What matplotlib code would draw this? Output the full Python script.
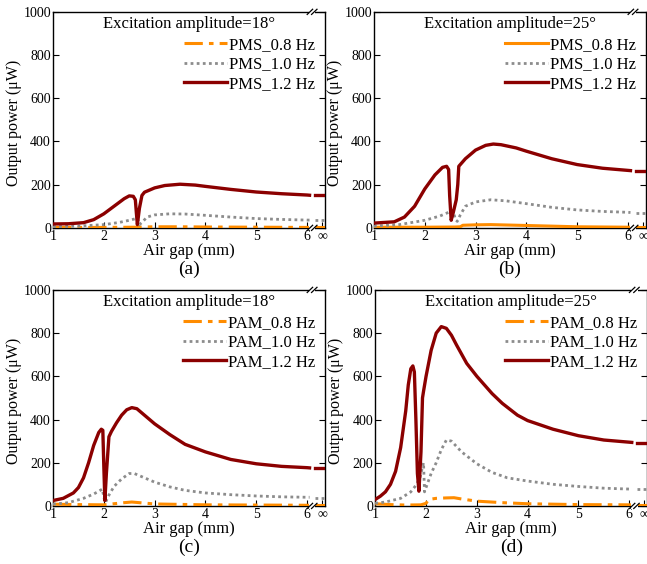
import matplotlib
matplotlib.use("Agg")
import matplotlib.pyplot as plt
from matplotlib.patches import Rectangle

plt.rcParams['font.family'] = ['Liberation Serif', 'DejaVu Serif']
plt.rcParams['mathtext.fontset'] = 'stix'

# ---------------- data ----------------
# Panel (a): PMS, 18 deg
red_a_x = [1.0, 1.3, 1.6, 1.8, 2.0, 2.2, 2.4, 2.5, 2.58, 2.62, 2.64, 2.66, 2.70, 2.75, 2.8, 3.0, 3.2, 3.5, 3.8, 4.0, 4.5, 5.0, 5.5, 6.0, 6.05]
red_a_y = [18, 19, 24, 38, 65, 100, 135, 148, 146, 130, 70, 15, 90, 150, 165, 185, 196, 202, 198, 192, 178, 166, 158, 152, 151]
gray_a_x = [1.0, 1.5, 2.0, 2.3, 2.5, 2.62, 2.66, 2.7, 2.75, 2.85, 3.0, 3.3, 3.6, 4.0, 4.5, 5.0, 5.5, 6.0, 6.05]
gray_a_y = [5, 8, 15, 25, 35, 42, 45, 15, 25, 50, 60, 65, 64, 58, 50, 43, 39, 36, 36]
orange_a_x = [1.0, 2.0, 2.6, 3.0, 3.5, 4.0, 5.0, 6.0, 6.05]
orange_a_y = [2, 2, 3, 5, 5, 4, 3, 2, 2]
inf_a = [2, 35, 150]

# Panel (b): PMS, 25 deg
red_b_x = [1.0, 1.4, 1.6, 1.8, 2.0, 2.2, 2.35, 2.43, 2.47, 2.49, 2.52, 2.56, 2.62, 2.65, 2.67, 2.8, 3.0, 3.2, 3.35, 3.5, 3.8, 4.0, 4.5, 5.0, 5.5, 6.0, 6.05]
red_b_y = [22, 28, 50, 100, 180, 245, 280, 285, 270, 150, 35, 70, 130, 200, 285, 320, 360, 382, 388, 385, 370, 355, 320, 293, 276, 266, 265]
gray_b_x = [1.0, 1.5, 2.0, 2.3, 2.5, 2.56, 2.6, 2.64, 2.7, 2.8, 3.0, 3.3, 3.6, 4.0, 4.5, 5.0, 5.5, 6.0, 6.05]
gray_b_y = [8, 15, 35, 55, 75, 80, 40, 30, 60, 100, 120, 130, 125, 112, 95, 83, 76, 72, 71]
orange_b_x = [1.0, 2.0, 2.6, 2.7, 2.75, 3.0, 3.3, 4.0, 4.5, 5.0, 6.0, 6.05]
orange_b_y = [3, 3, 4, 5, 12, 14, 15, 11, 8, 5, 3, 3]
inf_b = [3, 70, 263]

# Panel (c): PAM, 18 deg
red_c_x = [1.0, 1.2, 1.4, 1.5, 1.6, 1.7, 1.8, 1.9, 1.95, 1.98, 2.0, 2.02, 2.05, 2.1, 2.15, 2.25, 2.35, 2.45, 2.55, 2.65, 2.8, 3.0, 3.3, 3.6, 4.0, 4.5, 5.0, 5.5, 6.0, 6.05]
red_c_y = [25, 35, 60, 85, 130, 200, 280, 340, 355, 350, 180, 25, 150, 320, 345, 385, 420, 445, 455, 450, 420, 380, 330, 285, 250, 215, 195, 183, 177, 176]
gray_c_x = [1.0, 1.3, 1.6, 1.8, 1.9, 1.97, 2.0, 2.03, 2.1, 2.2, 2.35, 2.5, 2.6, 2.8, 3.0, 3.3, 3.6, 4.0, 4.5, 5.0, 5.5, 6.0, 6.05]
gray_c_y = [8, 15, 35, 55, 68, 78, 40, 15, 50, 90, 125, 150, 150, 130, 110, 88, 72, 60, 52, 46, 42, 40, 40]
orange_c_x = [1.0, 1.5, 2.0, 2.2, 2.4, 2.55, 2.7, 3.0, 3.5, 4.0, 5.0, 6.0, 6.05]
orange_c_y = [8, 6, 5, 10, 15, 18, 15, 9, 7, 5, 4, 3, 3]
inf_c = [3, 38, 175]

# Panel (d): PAM, 25 deg
red_d_x = [1.0, 1.1, 1.2, 1.3, 1.4, 1.5, 1.6, 1.65, 1.7, 1.74, 1.77, 1.8, 1.83, 1.86, 1.9, 1.93, 1.95, 2.0, 2.1, 2.2, 2.3, 2.4, 2.5, 2.6, 2.8, 3.0, 3.3, 3.5, 3.8, 4.0, 4.5, 5.0, 5.5, 6.0, 6.05]
red_d_y = [30, 45, 65, 100, 160, 270, 440, 560, 635, 648, 620, 400, 150, 68, 250, 500, 530, 600, 720, 800, 830, 822, 790, 745, 660, 600, 520, 475, 420, 395, 355, 325, 305, 295, 294]
gray_d_x = [1.0, 1.2, 1.5, 1.7, 1.8, 1.88, 1.93, 1.95, 1.97, 2.0, 2.1, 2.2, 2.3, 2.4, 2.5, 2.7, 3.0, 3.3, 3.6, 4.0, 4.5, 5.0, 5.5, 6.0, 6.05]
gray_d_y = [12, 18, 35, 65, 95, 130, 180, 200, 65, 85, 150, 200, 260, 305, 300, 250, 195, 155, 130, 115, 100, 90, 82, 78, 77]
orange_d_x = [1.0, 1.3, 1.6, 1.9, 2.0, 2.05, 2.2, 2.4, 2.55, 2.7, 3.0, 3.5, 4.0, 4.5, 5.0, 6.0, 6.05]
orange_d_y = [10, 6, 4, 5, 12, 30, 35, 37, 38, 32, 22, 15, 10, 8, 6, 5, 5]
inf_d = [5, 76, 292]

xticks = [1, 2, 3, 4, 5, 6, 6.3]
xticklabels = ['1', '2', '3', '4', '5', '6', '∞']
yticks = [0, 200, 400, 600, 800, 1000]
inf_seg = [6.15, 6.4]

panels = [
    dict(pos=[0.082, 0.596, 0.420, 0.383], tag='(a)', amp='18°', pre='PMS', solid08=False,
         series=[(orange_a_x, orange_a_y), (gray_a_x, gray_a_y), (red_a_x, red_a_y)], inf=inf_a),
    dict(pos=[0.578, 0.596, 0.420, 0.383], tag='(b)', amp='25°', pre='PMS', solid08=True,
         series=[(orange_b_x, orange_b_y), (gray_b_x, gray_b_y), (red_b_x, red_b_y)], inf=inf_b),
    dict(pos=[0.082, 0.103, 0.420, 0.383], tag='(c)', amp='18°', pre='PAM', solid08=False,
         series=[(orange_c_x, orange_c_y), (gray_c_x, gray_c_y), (red_c_x, red_c_y)], inf=inf_c),
    dict(pos=[0.580, 0.103, 0.420, 0.383], tag='(d)', amp='25°', pre='PAM', solid08=False,
         series=[(orange_d_x, orange_d_y), (gray_d_x, gray_d_y), (red_d_x, red_d_y)], inf=inf_d),
]

ORANGE = '#FF8C00'
GRAY = '#8C8C8C'
RED = '#8B0000'
freqs = ['0.8 Hz', '1.0 Hz', '1.2 Hz']

fig = plt.figure(figsize=(6.47, 5.64), dpi=100)

for p in panels:
    ax = fig.add_axes(p['pos'])
    styles = [
        dict(color=ORANGE, lw=2.2, ls='-' if p['solid08'] else (0, (6, 2, 1.5, 2))),
        dict(color=GRAY, lw=2.0, ls=(0, (1, 1.2))),
        dict(color=RED, lw=2.4, ls='-'),
    ]
    for (xs, ys), st, f, iv in zip(p['series'], styles, freqs, p['inf']):
        ax.plot(xs, ys, label=f"{p['pre']}_{f}", zorder=3 - 0.1, **st)
        ax.plot(inf_seg, [iv, iv], zorder=3, clip_on=True, **st)
    ax.set_xlim(1, 6.35)
    ax.set_ylim(0, 1000)
    ax.set_xticks(xticks)
    ax.set_xticklabels(xticklabels)
    ax.set_yticks(yticks)
    ax.tick_params(direction='in', right=True, top=False, labelsize=10, length=4, pad=1.5)
    for s in ax.spines.values():
        s.set_linewidth(1.0)
    ax.set_xlabel('Air gap (mm)', fontsize=12)
    ax.xaxis.set_label_coords(0.5, -0.068)
    ax.set_ylabel('Output power (μW)', fontsize=11.5)
    ax.yaxis.set_label_coords(-0.114, 0.487)
    ax.text(0.5, 0.945, f"Excitation amplitude={p['amp']}", transform=ax.transAxes,
            ha='center', va='center', fontsize=12)
    ax.legend(loc='upper right', bbox_to_anchor=(0.99, 0.915), frameon=False, fontsize=12,
              handlelength=2.6, handletextpad=0.12, labelspacing=0.22, borderaxespad=0.0)
    ax.text(0.5, -0.19, p['tag'], transform=ax.transAxes, ha='center', va='center', fontsize=14)
    # axis break marks at top and bottom spines
    xb = (6.1 - 1) / (6.35 - 1)
    for yb in (0.0, 1.0):
        ax.add_patch(Rectangle((xb - 0.012, yb - 0.012), 0.024, 0.024, transform=ax.transAxes,
                               facecolor='white', edgecolor='none', clip_on=False, zorder=5))
        for dx in (-0.008, 0.008):
            ax.plot([xb + dx - 0.01, xb + dx + 0.01], [yb - 0.012, yb + 0.012],
                    transform=ax.transAxes, color='black', lw=0.9, clip_on=False, zorder=6)

fig.savefig('out.png', dpi=100)
